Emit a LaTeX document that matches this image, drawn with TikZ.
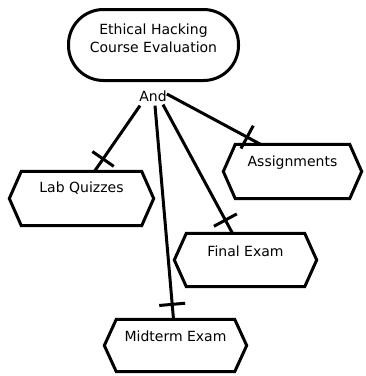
\documentclass[tikz,border=0pt]{standalone}
\usepackage{fontspec}
\setmainfont{DejaVu Sans}
\usetikzlibrary{decorations.markings}
% hexagonal frame around a named (invisible) node
\newcommand\hexframe[1]{%
  \draw[frame] (#1.west) -- ([xshift=12pt]#1.north west) -- ([xshift=-12pt]#1.north east)
    -- (#1.east) -- ([xshift=-12pt]#1.south east) -- ([xshift=12pt]#1.south west) -- cycle;}
\begin{document}
\begin{tikzpicture}[x=1pt,y=-1pt,
  txt/.style={font=\fontsize{14}{18}\selectfont, inner sep=0pt, align=center},
  frame/.style={line width=3pt},
  hexbox/.style={draw=none, inner sep=0pt, minimum width=#1},
  link/.style={line width=3pt, postaction={decorate},
    decoration={markings, mark=at position -15pt with {\draw[line width=3pt] (0,-13pt) -- (0,13pt);}}}
]
\fill[white] (0,0) rectangle (366,376);
\useasboundingbox (0,0) rectangle (366,376);

% goal
\node[draw, frame, rounded corners=35pt, minimum width=170pt, minimum height=71pt, inner sep=0pt] (goal) at (153.5,45) {};
\node[txt] (goaltxt) at ([yshift=7pt]goal.center) {Ethical Hacking\\Course Evaluation};
\node[txt, inner sep=2pt] (and) at (153,96) {And};

% sub-goals
\node[hexbox=144pt, minimum height=54pt] (lab) at (81.5,198.5) {};
\node[hexbox=138pt, minimum height=54pt] (asg) at (292.5,171.5) {};
\node[hexbox=142pt, minimum height=53pt] (fin) at (245.5,260) {};
\node[hexbox=142pt, minimum height=52pt] (mid) at (175.5,345.5) {};
\hexframe{lab}\hexframe{asg}\hexframe{fin}\hexframe{mid}
\node[txt] (labtxt) at ([yshift=10pt]lab.center) {Lab Quizzes};
\node[txt] (asgtxt) at ([yshift=9pt]asg.center) {Assignments};
\node[txt] (fintxt) at ([yshift=9pt]fin.center) {Final Exam};
\node[txt] (midtxt) at ([yshift=9pt]mid.center) {Midterm Exam};

% connectors
\draw[link] ([xshift=-13pt,yshift=-2pt]and.south) -- ([xshift=13pt]lab.north);
\draw[link] ([xshift=2pt,yshift=-2pt]and.south) -- ([xshift=-2pt]mid.north);
\draw[link] ([xshift=10pt,yshift=-1pt]and.south) -- ([xshift=-13pt]fin.north);
\draw[link] ([xshift=-2pt,yshift=2pt]and.east) -- ([xshift=-32pt]asg.north);
\end{tikzpicture}
\end{document}
